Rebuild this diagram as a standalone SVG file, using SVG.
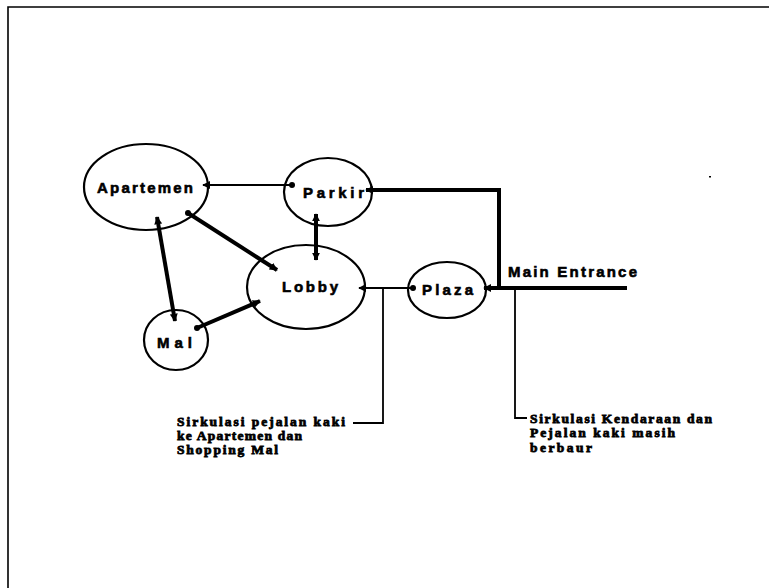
<svg xmlns="http://www.w3.org/2000/svg" width="769" height="588" viewBox="0 0 769 588">
  <style>
    .node { fill: #fff; stroke: #000; stroke-width: 2.2; }
    .lbl { font-family: "Liberation Sans", Arial, sans-serif; font-weight: bold; font-size: 15px; fill: #000; stroke: #000; stroke-width: 0.6; }
    .note { font-family: "Liberation Serif", "Times New Roman", serif; font-weight: bold; font-size: 13.5px; fill: #000; stroke: #000; stroke-width: 0.8; }
    .thin { fill: none; stroke: #000; stroke-width: 2; }
    .thick { fill: none; stroke: #000; stroke-width: 4; }
    .lead { fill: none; stroke: #000; stroke-width: 1.8; }
  </style>
  <defs>
    <marker id="arr" viewBox="0 0 10 10" refX="9" refY="5" markerWidth="8" markerHeight="8" orient="auto-start-reverse" markerUnits="userSpaceOnUse">
      <path d="M0,0 L10,5 L0,10 z" fill="#000"/>
    </marker>
    <marker id="dot" viewBox="0 0 10 10" refX="5" refY="5" markerWidth="6" markerHeight="6" markerUnits="userSpaceOnUse">
      <circle cx="5" cy="5" r="5" fill="#000"/>
    </marker>
  </defs>

  <rect width="769" height="588" fill="#fff"/>

  <!-- page frame (top and left edges) -->
  <path d="M8,588 L8,7 L769,7" fill="none" stroke="#000" stroke-width="1.6"/>
  <rect x="709" y="176" width="2" height="1.5" fill="#000"/>

  <g id="apartemen">
    <ellipse class="node" cx="146" cy="187" rx="62" ry="43"/>
    <text class="lbl" x="97" y="193" textLength="96" lengthAdjust="spacing">Apartemen</text>
  </g>
  <g id="parkir">
    <ellipse class="node" cx="328" cy="192" rx="44" ry="34"/>
    <text class="lbl" x="303" y="198" textLength="61" lengthAdjust="spacing">Parkir</text>
  </g>
  <g id="lobby">
    <ellipse class="node" cx="306" cy="287" rx="59" ry="42"/>
    <text class="lbl" x="282" y="292" textLength="56" lengthAdjust="spacing">Lobby</text>
  </g>
  <g id="plaza">
    <ellipse class="node" cx="447" cy="290" rx="39" ry="28"/>
    <text class="lbl" x="422" y="295" textLength="51" lengthAdjust="spacing">Plaza</text>
  </g>
  <g id="mal">
    <ellipse class="node" cx="176" cy="340" rx="32" ry="30"/>
    <text class="lbl" x="157" y="348" textLength="35" lengthAdjust="spacing">Mal</text>
  </g>
  <g id="main-entrance">
    <text class="lbl" x="508" y="277" textLength="129" lengthAdjust="spacing">Main Entrance</text>
  </g>

  <!-- connectors, drawn over the node outlines so the end marks show -->
  <g id="connectors">
    <line class="thin" x1="203" y1="185" x2="292" y2="185" marker-start="url(#arr)" marker-end="url(#dot)"/>
    <path class="thick" d="M366,190 L499,190 L499,289" marker-start="url(#arr)"/>
    <line class="thick" x1="316" y1="214" x2="316" y2="260" marker-start="url(#arr)" marker-end="url(#arr)"/>
    <line class="thick" x1="188" y1="213" x2="277" y2="270" marker-start="url(#dot)" marker-end="url(#arr)"/>
    <line class="thick" x1="157" y1="217" x2="175" y2="321" marker-start="url(#arr)" marker-end="url(#arr)"/>
    <line class="thick" x1="197" y1="328" x2="260" y2="301" marker-start="url(#dot)" marker-end="url(#arr)"/>
    <line class="thin" x1="359" y1="288" x2="413" y2="288" marker-start="url(#arr)" marker-end="url(#dot)"/>
    <line class="thick" x1="484" y1="288" x2="627" y2="288" marker-start="url(#arr)"/>
    <path class="lead" d="M383,288 L383,423 L353,423"/>
    <path class="lead" d="M515,288 L515,418 L527,418"/>
  </g>

  <g id="note-pedestrian">
    <text class="note" x="177" y="426" textLength="168" lengthAdjust="spacing">Sirkulasi pejalan kaki</text>
    <text class="note" x="177" y="440" textLength="125" lengthAdjust="spacing">ke Apartemen dan</text>
    <text class="note" x="177" y="454" textLength="101" lengthAdjust="spacing">Shopping Mal</text>
  </g>
  <g id="note-vehicle">
    <text class="note" x="530" y="423" textLength="182" lengthAdjust="spacing">Sirkulasi Kendaraan dan</text>
    <text class="note" x="530" y="437" textLength="145" lengthAdjust="spacing">Pejalan kaki masih</text>
    <text class="note" x="530" y="452" textLength="62" lengthAdjust="spacing">berbaur</text>
  </g>
</svg>
